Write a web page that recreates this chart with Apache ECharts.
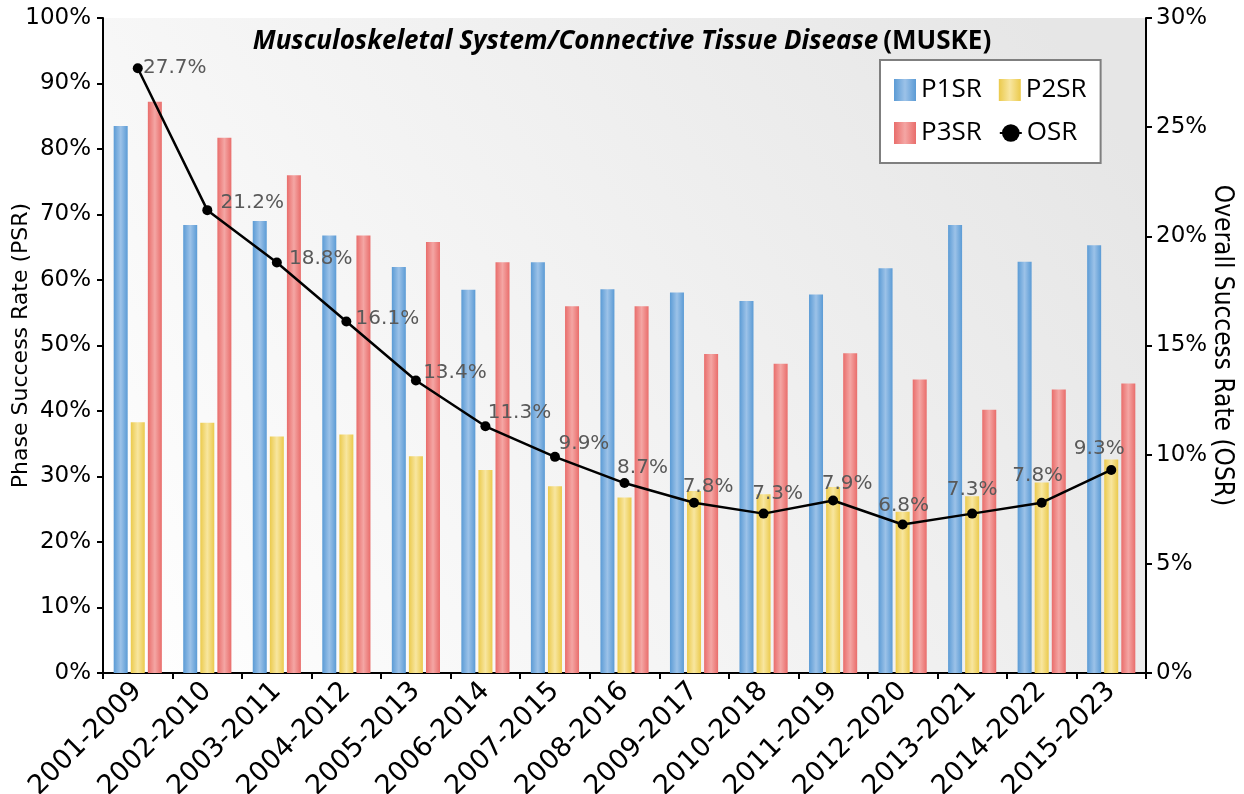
<!DOCTYPE html>
<html>
<head>
<meta charset="utf-8">
<title>MUSKE success rates</title>
<script src="https://cdn.jsdelivr.net/npm/echarts@6.0.0/dist/echarts.min.js"></script>
<style>
  html, body { margin: 0; padding: 0; background: #fff; }
  #chart { width: 1244px; height: 794px; }
</style>
</head>
<body>
<div id="chart"></div>
<script>
// values
const categories = ['2001-2009', '2002-2010', '2003-2011', '2004-2012', '2005-2013',
    '2006-2014', '2007-2015', '2008-2016', '2009-2017', '2010-2018',
    '2011-2019', '2012-2020', '2013-2021', '2014-2022', '2015-2023'];
const p1sr = [83.5, 68.4, 69.0, 66.8, 62.0, 58.5, 62.7, 58.6, 58.1, 56.8, 57.8, 61.8, 68.4, 62.8, 65.3];
const p2sr = [38.3, 38.2, 36.1, 36.4, 33.1, 31.0, 28.5, 26.8, 27.8, 27.3, 28.4, 24.6, 27.0, 29.1, 32.6];
const p3sr = [87.2, 81.7, 76.0, 66.8, 65.8, 62.7, 56.0, 56.0, 48.7, 47.2, 48.8, 44.8, 40.2, 43.3, 44.2];
const osr = [27.7, 21.2, 18.8, 16.1, 13.4, 11.3, 9.9, 8.7, 7.8, 7.3, 7.9, 6.8, 7.3, 7.8, 9.3];

// where each OSR label sits, relative to its point (label centre)
const osrLabelShift = [[37, 0], [45, -7], [44, -4], [41, -3], [39, -8], [34, -13], [29, -13],
    [18, -15], [14, -16], [14, -20], [14, -17], [1, -19], [0, -24], [-4, -27], [-12, -21]];

function tube(edge, light) {
    return new echarts.graphic.LinearGradient(0, 0, 1, 0, [
        { offset: 0, color: edge },
        { offset: 0.5, color: light },
        { offset: 1, color: edge }
    ]);
}

const axisFont = 'DejaVu Sans';
let myChart = echarts.init(document.getElementById('chart'), null, { renderer: 'canvas' });

let option = {
    backgroundColor: '#fff',
    animation: false,
    title: {
        text: '{i|Musculoskeletal System/Connective Tissue Disease} {b|(MUSKE)}',
        left: 'center',
        top: 24,
        textStyle: {
            rich: {
                i: { fontFamily: 'Open Sans', fontStyle: 'italic', fontWeight: 'bold', fontSize: 26, color: '#000' },
                b: { fontFamily: 'Open Sans', fontWeight: 'bold', fontSize: 26, color: '#000' }
            }
        }
    },
    legend: {
        left: 880,
        top: 60,
        width: 200,
        padding: [17, 14, 17, 14],
        itemGap: 17,
        itemWidth: 22,
        itemHeight: 22,
        backgroundColor: '#fff',
        borderColor: '#7f7f7f',
        borderWidth: 2,
        borderRadius: 0,
        textStyle: { fontFamily: 'Open Sans', fontSize: 26, color: '#000' },
        data: [
            { name: 'P1SR', icon: 'rect' },
            { name: 'P2SR', icon: 'rect' },
            { name: 'P3SR', icon: 'rect' },
            { name: 'OSR' }
        ]
    },
    grid: {
        left: 103,
        right: 98,
        top: 18,
        bottom: 121,
        containLabel: false,
        outerBoundsMode: 'none',
        show: true,
        borderWidth: 0,
        backgroundColor: new echarts.graphic.LinearGradient(0, 1, 0.9, 0, [
            { offset: 0, color: '#ffffff' },
            { offset: 1, color: '#e6e6e6' }
        ])
    },
    xAxis: {
        type: 'category',
        data: categories,
        boundaryGap: true,
        axisLine: { lineStyle: { color: '#000', width: 2 } },
        axisTick: { show: true, length: 6, lineStyle: { color: '#000', width: 2 } },
        axisLabel: {
            rotate: 45,
            margin: 14,
            interval: 0,
            fontFamily: axisFont,
            fontSize: 27,
            color: '#000'
        },
        splitLine: { show: false }
    },
    yAxis: [
        {
            type: 'value',
            min: 0,
            max: 100,
            interval: 10,
            name: 'Phase Success Rate (PSR)',
            nameLocation: 'middle',
            nameGap: 71,
            nameRotate: 90,
            nameMoveOverlap: false,
            nameTextStyle: { fontFamily: axisFont, fontSize: 22, color: '#000' },
            axisLine: { show: true, lineStyle: { color: '#000', width: 2 } },
            axisTick: { show: true, length: 6, lineStyle: { color: '#000', width: 2 } },
            axisLabel: {
                formatter: '{value}%',
                margin: 12,
                fontFamily: axisFont,
                fontSize: 23,
                color: '#000'
            },
            splitLine: { show: false }
        },
        {
            type: 'value',
            min: 0,
            max: 30,
            interval: 5,
            position: 'right',
            name: 'Overall Success Rate (OSR)',
            nameLocation: 'middle',
            nameGap: 63,
            nameRotate: -90,
            nameMoveOverlap: false,
            nameTextStyle: { fontFamily: 'DejaVu Sans Condensed', fontSize: 26, color: '#000' },
            axisLine: { show: true, lineStyle: { color: '#000', width: 2 } },
            axisTick: { show: true, length: 6, lineStyle: { color: '#000', width: 2 } },
            axisLabel: {
                formatter: '{value}%',
                margin: 10,
                fontFamily: axisFont,
                fontSize: 23,
                color: '#000'
            },
            splitLine: { show: false }
        }
    ],
    series: [
        {
            name: 'P1SR',
            type: 'bar',
            barWidth: 14,
            barGap: '22%',
            itemStyle: { color: tube('#5b9bd5', '#9cc2e8') },
            data: p1sr
        },
        {
            name: 'P2SR',
            type: 'bar',
            barWidth: 14,
            barGap: '22%',
            itemStyle: { color: tube('#ebca4c', '#f8e6a0') },
            data: p2sr
        },
        {
            name: 'P3SR',
            type: 'bar',
            barWidth: 14,
            barGap: '22%',
            itemStyle: { color: tube('#e96d6b', '#f4a6a4') },
            data: p3sr
        },
        {
            name: 'OSR',
            type: 'line',
            yAxisIndex: 1,
            symbol: 'circle',
            symbolSize: 10,
            lineStyle: { color: '#000', width: 2.5 },
            itemStyle: { color: '#000' },
            z: 5,
            data: osr.map(function (v, i) {
                let s = osrLabelShift[i];
                return {
                    value: v,
                    label: {
                        show: true,
                        position: [5 + s[0], 5 + s[1]],
                        align: 'center',
                        verticalAlign: 'middle',
                        formatter: function (p) {
                            return p.value.toFixed(1) + '%';
                        },
                        fontFamily: axisFont,
                        fontSize: 20,
                        color: '#595959'
                    }
                };
            })
        }
    ]
};

myChart.setOption(option);
</script>
</body>
</html>
